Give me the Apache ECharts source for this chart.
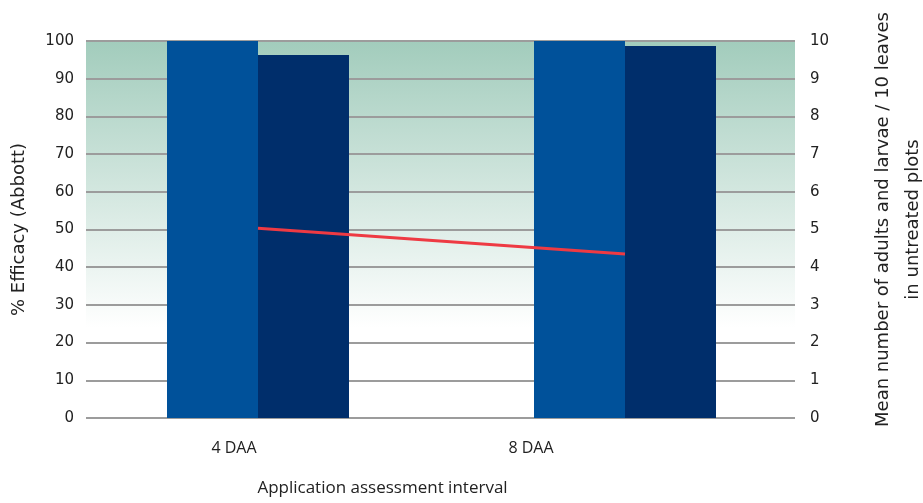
<!DOCTYPE html>
<html>
<head>
<meta charset="utf-8">
<script src="https://cdn.jsdelivr.net/npm/echarts@6/dist/echarts.min.js"></script>
<style>html,body{margin:0;padding:0;background:#fff}#c{width:923px;height:503px}</style>
</head>
<body>
<div id="c"></div>
<script>
const categories = ['4 DAA', '8 DAA'];
const efficacyA = [100, 100];
const efficacyB = [96.3, 98.7];
const meanUntreated = [5.03, 4.35];
const leftTicks = {min: 0, max: 100, interval: 10};
const rightTicks = {min: 0, max: 10, interval: 1};

const FONT = 'Open Sans';
const NUMFONT = 'DejaVu Sans';
const chart = echarts.init(document.getElementById('c'));
chart.setOption({
  animation: false,
  textStyle: {fontFamily: FONT},
  grid: [
    {left: 86, right: 128, top: 41, bottom: 85, show: true, borderWidth: 0, outerBoundsMode: 'none', containLabel: false,
     backgroundColor: {type: 'linear', x: 0, y: 0, x2: 0, y2: 1,
       colorStops: [{offset: 0, color: '#a2ccbc'}, {offset: 0.76, color: '#ffffff'}, {offset: 1, color: '#ffffff'}]}},
    {left: 74.5, right: 114.5, top: 41, bottom: 85, outerBoundsMode: 'none', containLabel: false}
  ],
  xAxis: [
    {gridIndex: 0, type: 'category', data: categories, show: false},
    {gridIndex: 1, type: 'category', data: categories,
     axisLine: {show: false}, axisTick: {show: false},
     axisLabel: {margin: 22, fontSize: 16, color: '#222',
       formatter: (v, i) => i === 0 ? '{a|' + v + '}' : '{b|' + v + '}',
       rich: {a: {fontSize: 16, fontFamily: FONT, color: '#222', padding: [0, 48, 0, 0]},
              b: {fontSize: 16, fontFamily: FONT, color: '#222', padding: [0, 188, 0, 0]}}},
     name: 'Application assessment interval', nameLocation: 'middle', nameGap: 62,
     nameTextStyle: {fontSize: 17, color: '#222', padding: [0, 118, 0, 0]}}
  ],
  yAxis: [
    {gridIndex: 0, type: 'value', min: leftTicks.min, max: leftTicks.max, interval: leftTicks.interval,
     axisLine: {show: false}, axisTick: {show: false},
     axisLabel: {margin: 12, fontSize: 15, color: '#222', fontFamily: NUMFONT},
     splitLine: {show: true, lineStyle: {color: '#9c9c9c', width: 2}},
     name: '% Efficacy (Abbott)', nameLocation: 'middle', nameRotate: 90, nameGap: 58,
     nameTextStyle: {fontSize: 18, color: '#222', fontFamily: NUMFONT}},
    {gridIndex: 0, type: 'value', position: 'right', min: rightTicks.min, max: rightTicks.max, interval: rightTicks.interval,
     axisLine: {show: false}, axisTick: {show: false}, splitLine: {show: false},
     axisLabel: {margin: 15, fontSize: 15, color: '#222', fontFamily: NUMFONT},
     name: 'Mean number of adults and larvae / 10 leaves\nin untreated plots', nameLocation: 'middle', nameRotate: 90, nameGap: 73,
     nameTextStyle: {fontSize: 18, color: '#222', fontFamily: NUMFONT, lineHeight: 30, padding: [0, 0, 0, 20]}},
    {gridIndex: 1, type: 'value', min: leftTicks.min, max: leftTicks.max, show: false},
    {gridIndex: 1, type: 'value', min: rightTicks.min, max: rightTicks.max, show: false}
  ],
  series: [
    {type: 'bar', xAxisIndex: 1, yAxisIndex: 2, data: efficacyA, barWidth: 91, barGap: '0%',
     itemStyle: {color: '#00519a'}, z: 3},
    {type: 'bar', xAxisIndex: 1, yAxisIndex: 2, data: efficacyB, barWidth: 91, barGap: '0%',
     itemStyle: {color: '#002e6b'}, z: 3},
    {type: 'line', xAxisIndex: 1, yAxisIndex: 3, data: meanUntreated, showSymbol: false, symbol: 'none',
     lineStyle: {color: '#ee3a43', width: 3}, z: 5}
  ]
});
</script>
</body>
</html>
